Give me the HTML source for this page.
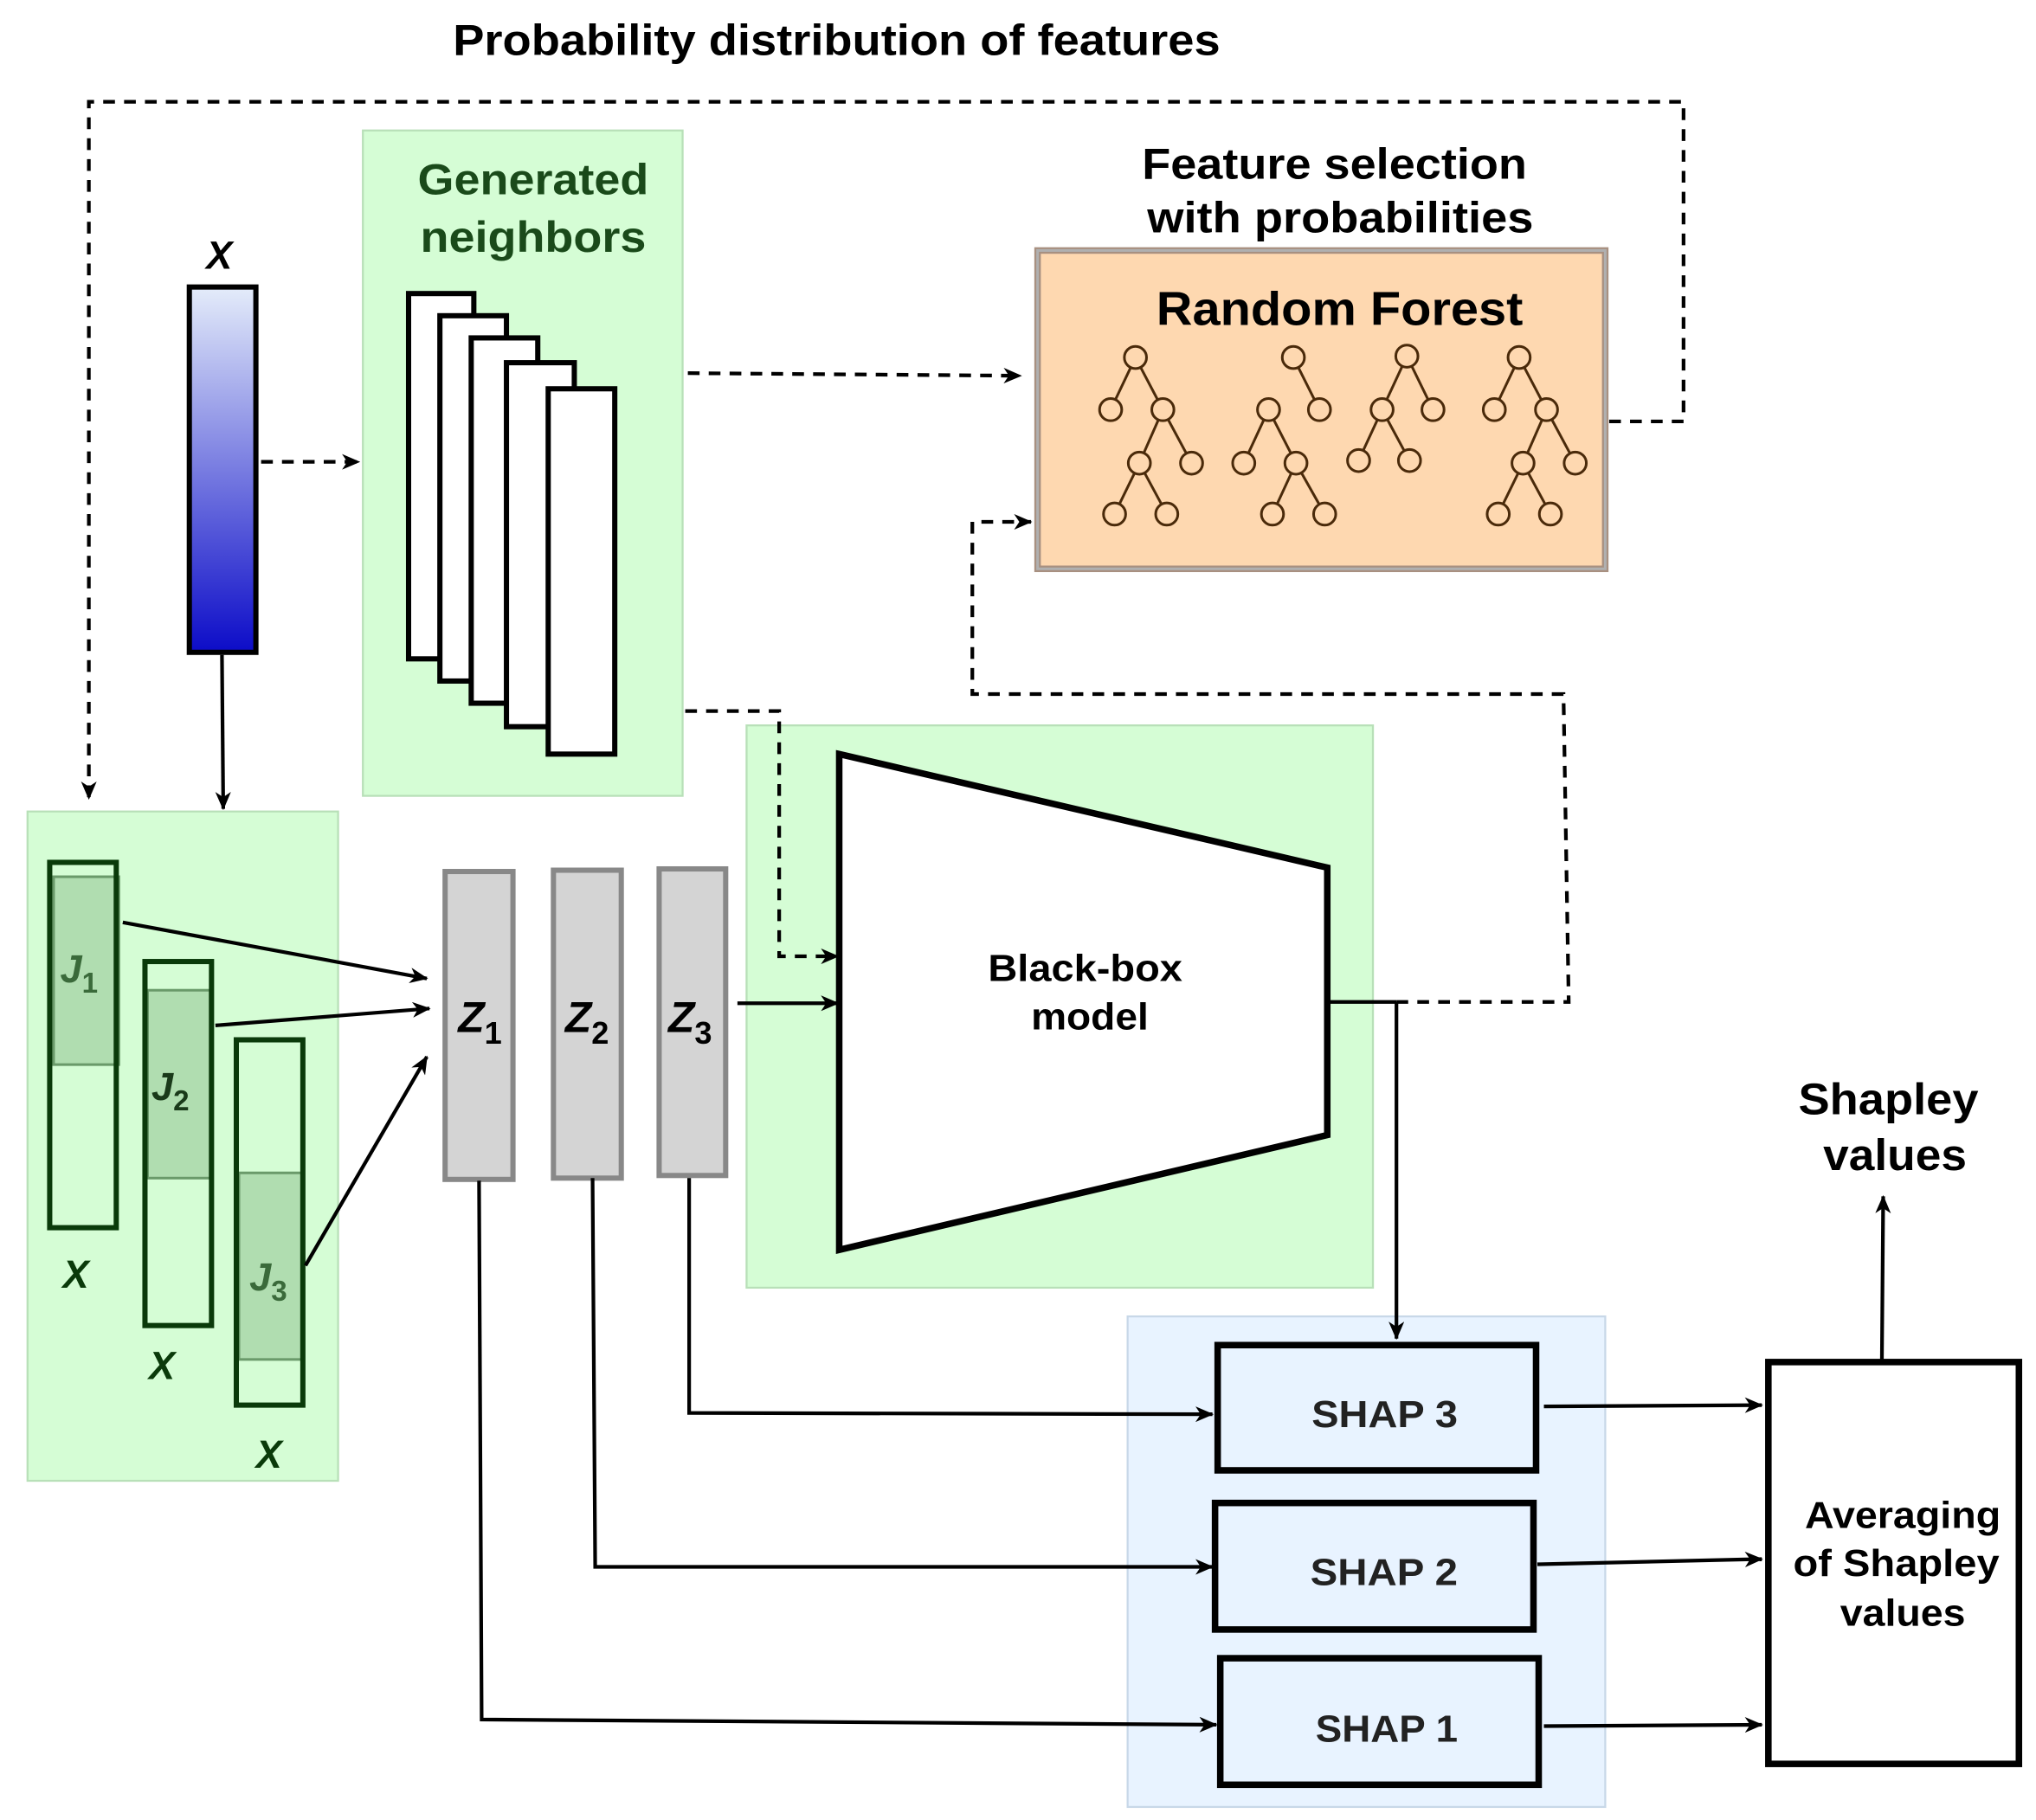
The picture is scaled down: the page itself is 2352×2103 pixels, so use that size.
<!DOCTYPE html>
<html><head><meta charset="utf-8"><style>
html,body{margin:0;padding:0;background:#fff}
svg{display:block}
text{font-family:"Liberation Sans",Arial,sans-serif;font-weight:bold}
</style></head><body>
<svg width="2352" height="2103" viewBox="0 0 1560 1395" xmlns="http://www.w3.org/2000/svg">
<defs>
<marker id="a" markerWidth="14" markerHeight="12" refX="13" refY="6" orient="auto" markerUnits="userSpaceOnUse"><path d="M0,0 L14,6 L0,12 L4,6 Z" fill="#000"/></marker>
<linearGradient id="g" x1="0" y1="0" x2="0" y2="1"><stop offset="0" stop-color="#e4ecfa"/><stop offset="1" stop-color="#0c0cc8"/></linearGradient>
</defs>

<text x="347" y="42" font-size="33" textLength="588" lengthAdjust="spacingAndGlyphs">Probability distribution of features</text>

<path d="M1233,323 L1290,323 L1290,78 L68,78 L68,612" fill="none" stroke="#000" stroke-width="2.8" stroke-dasharray="9,7" marker-end="url(#a)"/>

<text x="168" y="206" font-size="30" font-style="italic" text-anchor="middle">X</text>
<rect x="145" y="220" width="51" height="280" fill="url(#g)" stroke="#000" stroke-width="4"/>
<path d="M200,354 L275,354" stroke="#000" stroke-width="2.8" stroke-dasharray="9,7" marker-end="url(#a)"/>
<path d="M170,502 L171,620" stroke="#000" stroke-width="2.8" marker-end="url(#a)"/>

<rect x="278" y="100" width="245" height="510" fill="#d5fdd5" stroke="#b8e0b8" stroke-width="1.5"/>
<text x="320" y="149" font-size="33" fill="#1a4a1a" textLength="177" lengthAdjust="spacingAndGlyphs">Generated</text>
<text x="322" y="193" font-size="33" fill="#1a4a1a" textLength="173" lengthAdjust="spacingAndGlyphs">neighbors</text>
<g fill="#fff" stroke="#000" stroke-width="4">
<rect x="313" y="225" width="50" height="280"/>
<rect x="337" y="242" width="51" height="280"/>
<rect x="361" y="259" width="51" height="280"/>
<rect x="388" y="278" width="52" height="279"/>
<rect x="420" y="298" width="51" height="280"/>
</g>
<path d="M527,286 L782,288" stroke="#000" stroke-width="2.8" stroke-dasharray="9,7" marker-end="url(#a)"/>

<text x="875" y="137" font-size="33" textLength="295" lengthAdjust="spacingAndGlyphs">Feature selection</text>
<text x="879" y="178" font-size="33" textLength="296" lengthAdjust="spacingAndGlyphs">with probabilities</text>
<rect x="795" y="192" width="435" height="244" fill="#fed8b0" stroke="#a89080" stroke-width="5"/>
<rect x="795" y="192" width="435" height="244" fill="none" stroke="#b0b0b0" stroke-width="2"/>
<text x="886" y="249" font-size="36" textLength="281" lengthAdjust="spacingAndGlyphs">Random Forest</text>
<g stroke="#4a2a0a" stroke-width="2" fill="none">
<path d="M870,274 L851,314 M870,274 L891,314 M891,314 L873,355 M891,314 L913,355 M873,355 L854,394 M873,355 L894,394"/>
<path d="M991,274 L1011,314 M972,314 L953,355 M972,314 L993,355 M993,355 L975,394 M993,355 L1015,394"/>
<path d="M1078,273 L1059,314 M1078,273 L1098,314 M1059,314 L1041,353 M1059,314 L1080,353"/>
<path d="M1164,274 L1145,314 M1164,274 L1185,314 M1185,314 L1167,355 M1185,314 L1207,355 M1167,355 L1148,394 M1167,355 L1188,394"/>
</g>
<g stroke="#4a2a0a" stroke-width="2" fill="#fed8b0">
<circle cx="870" cy="274" r="8.5"/><circle cx="851" cy="314" r="8.5"/><circle cx="891" cy="314" r="8.5"/><circle cx="873" cy="355" r="8.5"/><circle cx="913" cy="355" r="8.5"/><circle cx="854" cy="394" r="8.5"/><circle cx="894" cy="394" r="8.5"/>
<circle cx="991" cy="274" r="8.5"/><circle cx="1011" cy="314" r="8.5"/><circle cx="972" cy="314" r="8.5"/><circle cx="953" cy="355" r="8.5"/><circle cx="993" cy="355" r="8.5"/><circle cx="975" cy="394" r="8.5"/><circle cx="1015" cy="394" r="8.5"/>
<circle cx="1078" cy="273" r="8.5"/><circle cx="1059" cy="314" r="8.5"/><circle cx="1098" cy="314" r="8.5"/><circle cx="1041" cy="353" r="8.5"/><circle cx="1080" cy="353" r="8.5"/>
<circle cx="1164" cy="274" r="8.5"/><circle cx="1145" cy="314" r="8.5"/><circle cx="1185" cy="314" r="8.5"/><circle cx="1167" cy="355" r="8.5"/><circle cx="1207" cy="355" r="8.5"/><circle cx="1148" cy="394" r="8.5"/><circle cx="1188" cy="394" r="8.5"/>
</g>

<rect x="572" y="556" width="480" height="431" fill="#d5fdd5" stroke="#b8e0b8" stroke-width="1.5"/>
<rect x="864" y="1009" width="366" height="376" fill="#e8f3ff" stroke="#c8d8e8" stroke-width="1.5"/>
<path d="M525,545 L597,545 L597,733 L642,733" fill="none" stroke="#000" stroke-width="2.8" stroke-dasharray="9,7" marker-end="url(#a)"/>
<polygon points="643,578 1017,665 1017,870 643,958" fill="#fff" stroke="#000" stroke-width="5"/>
<text x="757" y="752" font-size="29" textLength="149" lengthAdjust="spacingAndGlyphs">Black-box</text>
<text x="790" y="789" font-size="29" textLength="90" lengthAdjust="spacingAndGlyphs">model</text>
<path d="M1017,768 L1070,768" stroke="#000" stroke-width="2.8"/>
<path d="M1070,768 L1202,768 L1198,532 L745,532 L745,400 L790,400" fill="none" stroke="#000" stroke-width="2.8" stroke-dasharray="9,7" marker-end="url(#a)"/>
<path d="M1070,768 L1070,1026" stroke="#000" stroke-width="2.8" marker-end="url(#a)"/>

<rect x="21" y="622" width="238" height="513" fill="#d5fdd5" stroke="#b8e0b8" stroke-width="1.5"/>
<g fill="#9ccc9c" fill-opacity="0.65" stroke="#6a9a6a" stroke-width="2">
<rect x="41" y="672" width="50" height="144"/>
<rect x="113" y="759" width="48" height="144"/>
<rect x="183" y="899" width="48" height="143"/>
</g>
<g fill="none" stroke="#0a3a0a" stroke-width="4">
<rect x="38" y="661" width="51" height="280"/>
<rect x="111" y="737" width="51" height="279"/>
<rect x="181" y="797" width="51" height="280"/>
</g>
<g font-style="italic" fill="#3a6a3a" font-size="30">
<text x="46" y="753">J<tspan font-size="22" dy="8" font-style="normal">1</tspan></text>
<text x="116" y="843" fill="#1a3a1a">J<tspan font-size="22" dy="8" font-style="normal">2</tspan></text>
<text x="191" y="989">J<tspan font-size="22" dy="8" font-style="normal">3</tspan></text>
</g>
<g font-style="italic" fill="#0a3a0a" font-size="30" text-anchor="middle">
<text x="58" y="987">X</text><text x="124" y="1057">X</text><text x="206" y="1125">X</text>
</g>
<g stroke="#000" stroke-width="2.8" fill="none" marker-end="url(#a)">
<path d="M94,707 L327,750"/>
<path d="M165,786 L329,773"/>
<path d="M234,970 L327,810"/>
</g>

<g fill="#d4d4d4" stroke="#888" stroke-width="4">
<rect x="341" y="668" width="52" height="236"/>
<rect x="424" y="667" width="52" height="236"/>
<rect x="505" y="666" width="51" height="235"/>
</g>
<g font-style="italic" font-size="33">
<text x="351" y="791">Z<tspan font-size="24" dy="9" font-style="normal">1</tspan></text>
<text x="433" y="791">Z<tspan font-size="24" dy="9" font-style="normal">2</tspan></text>
<text x="512" y="791">Z<tspan font-size="24" dy="9" font-style="normal">3</tspan></text>
</g>
<path d="M565,769 L642,769" stroke="#000" stroke-width="2.8" marker-end="url(#a)"/>

<g stroke="#000" stroke-width="2.8" fill="none" marker-end="url(#a)">
<path d="M367,905 L369,1318 L932,1322"/>
<path d="M454,903 L456,1201 L929,1201"/>
<path d="M528,903 L528,1083 L929,1084"/>
</g>
<g fill="#e8f3ff" stroke="#000" stroke-width="5">
<rect x="933" y="1031" width="244" height="96"/>
<rect x="931" y="1152" width="244" height="97"/>
<rect x="935" y="1271" width="244" height="97"/>
</g>
<g font-size="29" fill="#222">
<text x="1005" y="1094" textLength="112" lengthAdjust="spacingAndGlyphs">SHAP 3</text>
<text x="1004" y="1215" textLength="113" lengthAdjust="spacingAndGlyphs">SHAP 2</text>
<text x="1008" y="1335" textLength="109" lengthAdjust="spacingAndGlyphs">SHAP 1</text>
</g>

<rect x="1355" y="1044" width="192" height="308" fill="#fff" stroke="#000" stroke-width="5"/>
<g font-size="29">
<text x="1383" y="1171" textLength="150" lengthAdjust="spacingAndGlyphs">Averaging</text>
<text x="1374" y="1208" textLength="158" lengthAdjust="spacingAndGlyphs">of Shapley</text>
<text x="1410" y="1246" textLength="96" lengthAdjust="spacingAndGlyphs">values</text>
</g>
<g stroke="#000" stroke-width="2.8" fill="none" marker-end="url(#a)">
<path d="M1183,1078 L1350,1077"/>
<path d="M1178,1199 L1350,1195"/>
<path d="M1183,1323 L1350,1322"/>
<path d="M1442,1042 L1443,917"/>
</g>
<text x="1378" y="854" font-size="34" textLength="138" lengthAdjust="spacingAndGlyphs">Shapley</text>
<text x="1397" y="897" font-size="34" textLength="110" lengthAdjust="spacingAndGlyphs">values</text>
</svg>
</body></html>
